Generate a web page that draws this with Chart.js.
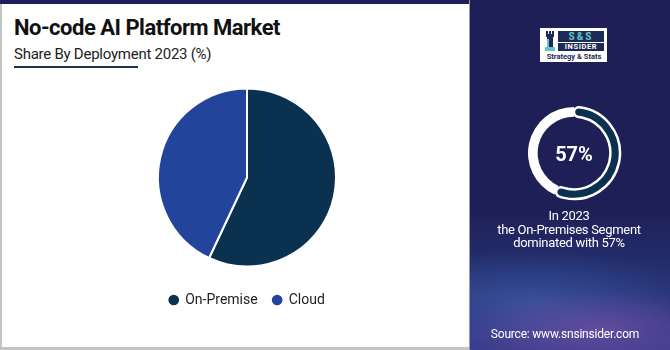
<!DOCTYPE html>
<html>
<head>
<meta charset="utf-8">
<script src="https://cdn.jsdelivr.net/npm/chart.js@4.4.1/dist/chart.umd.min.js"></script>
<style>
	body { margin: 0; width: 670px; height: 350px; overflow: hidden; background: #fff; font-family: Roboto, sans-serif; }
	#page { position: relative; width: 670px; height: 350px; }
	.topband { position: absolute; left: 0; top: 0; width: 470px; height: 4px; background: #1f1f57; }
	.leftline { position: absolute; left: 0; top: 4px; width: 2px; height: 346px; background: #c4c4c4; }
	.bottomline { position: absolute; left: 0; top: 347px; width: 470px; height: 3px; background: #c4c4c4; }
	.title { position: absolute; left: 14px; top: 15px; font-size: 22px; font-weight: 700; color: #111; letter-spacing: -0.5px; }
	.subtitle { position: absolute; left: 14px; top: 45px; font-size: 15px; color: #222; letter-spacing: -0.25px; }
	.underline { position: absolute; left: 14px; top: 66px; width: 124px; height: 2px; background: #1c3553; }
	#pieWrap { position: absolute; left: 0; top: 77px; width: 494px; height: 240px; }
	.side { position: absolute; left: 469px; top: 0; width: 201px; height: 350px;
		background:
			radial-gradient(ellipse 140px 40px at 130px 330px, rgba(150,90,180,0.45), rgba(150,90,180,0) 100%),
			radial-gradient(ellipse 160px 50px at 60px 300px, rgba(70,110,190,0.45), rgba(70,110,190,0) 100%),
			linear-gradient(180deg, #1f1f57 0%, #1f1f57 60%, #243070 78%, #3a3c8c 100%);
		border-left: 1px solid #9a9ab8; }
	.logo { position: absolute; left: 540px; top: 28px; width: 67px; height: 34px; background: #fff; }
	.tower { position: absolute; left: 4px; top: 3px; width: 12px; height: 20px; }
	.ss { position: absolute; left: 18px; top: 3px; width: 46px; height: 11px; background: #1d2a55; color: #5fc8c4; font-size: 10px; font-weight: 700; line-height: 11px; text-align: center; letter-spacing: 2px; }
	.ins { position: absolute; left: 18px; top: 15px; width: 46px; height: 8px; background: #1d2a55; color: #fff; font-size: 7.5px; font-weight: 700; line-height: 8px; text-align: center; letter-spacing: 0.6px; }
	.strat { position: absolute; left: 1px; top: 24px; width: 66px; font-size: 7.5px; color: #1d2a55; font-weight: 700; text-align: center; line-height: 9px; }
	#ringWrap { position: absolute; left: 526px; top: 105px; width: 96px; height: 96px; }
	.pct { position: absolute; left: 526px; top: 142px; width: 96px; text-align: center; color: #fff; font-size: 20px; font-weight: 700; }
	.note { position: absolute; left: 466px; top: 209px; width: 206px; text-align: center; color: #fff; font-size: 13px; line-height: 13.5px; letter-spacing: -0.3px; }
	.source { position: absolute; left: 460px; top: 327px; width: 210px; text-align: center; color: #fff; font-size: 12px; letter-spacing: -0.2px; }
</style>
</head>
<body>
<div id="page">
	<div class="topband"></div>
	<div class="leftline"></div>
	<div class="bottomline"></div>
	<div class="title">No-code AI Platform Market</div>
	<div class="subtitle">Share By Deployment 2023 (%)</div>
	<div class="underline"></div>
	<div id="pieWrap"><canvas id="pie"></canvas></div>
	<div class="side"></div>
	<div class="logo">
		<svg class="tower" viewBox="0 0 12 20">
			<rect x="2" y="0" width="2" height="3" fill="#1d2a55"/>
			<rect x="5" y="0" width="2" height="3" fill="#1d2a55"/>
			<rect x="8" y="0" width="2" height="3" fill="#1d2a55"/>
			<rect x="2" y="3" width="8" height="3" fill="#1d2a55"/>
			<rect x="3" y="6" width="6" height="10" fill="#1d2a55"/>
			<rect x="3" y="8" width="2" height="8" fill="#5fc8c4"/>
			<rect x="1" y="16" width="10" height="4" fill="#5fc8c4"/>
		</svg>
		<div class="ss">S&amp;S</div>
		<div class="ins">INSIDER</div>
		<div class="strat">Strategy &amp; Stats</div>
	</div>
	<div id="ringWrap"><canvas id="ring"></canvas></div>
	<div class="pct">57%</div>
	<div class="note">In 2023<br>the On-Premises Segment<br>dominated with 57%</div>
	<div class="source">Source: www.snsinsider.com</div>
</div>
<script>
const segments = ['On-Premise', 'Cloud'];
const shares = [57, 43];
const colors = ['#0b3150', '#22449b'];

const highlight = [57, 43];

const pieChart = new Chart(document.getElementById('pie'), {
	type: 'pie',
	data: {
		labels: segments,
		datasets: [{
			data: shares,
			backgroundColor: colors,
			borderColor: '#fff',
			borderWidth: 2
		}]
	},
	options: {
		responsive: true,
		maintainAspectRatio: false,
		animation: false,
		radius: 89,
		layout: { padding: 0 },
		plugins: {
			tooltip: { enabled: false },
			legend: {
				position: 'bottom',
				labels: {
					usePointStyle: true,
					pointStyle: 'circle',
					boxWidth: 9,
					boxHeight: 9,
					padding: 15,
					color: '#222',
					font: { family: 'Roboto', size: 14 }
				}
			}
		}
	}
});

const ringChart = new Chart(document.getElementById('ring'), {
	type: 'doughnut',
	data: {
		labels: segments,
		datasets: [{
			data: highlight,
			backgroundColor: ['#0b3150', '#ffffff'],
			borderColor: '#ffffff',
			borderWidth: [2.5, 0],
			borderRadius: [6, 0]
		}]
	},
	options: {
		responsive: true,
		maintainAspectRatio: false,
		animation: false,
		cutout: '79%',
		radius: 46,
		plugins: { legend: { display: false }, tooltip: { enabled: false } }
	}
});
</script>
</body>
</html>
